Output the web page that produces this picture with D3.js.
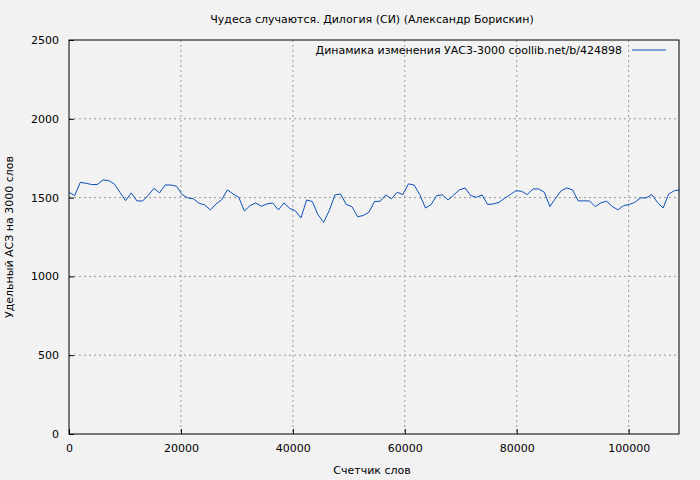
<!DOCTYPE html><html><head><meta charset="utf-8"><script src="https://cdn.jsdelivr.net/npm/d3@7"></script>
<style>body{margin:0;background:#f2f2f2}text{font-family:"DejaVu Sans";font-size:11px;fill:#000}</style></head><body><svg id="c" width="700" height="480"></svg><script>
const title="Чудеса случаются. Дилогия (СИ) (Александр Борискин)";
const legendLabel="Динамика изменения УАС3-3000  coollib.net/b/424898";
const xLabel="Счетчик слов", yLabel="Удельный АСЗ на 3000 слов";
const xTicks=[0,20000,40000,60000,80000,100000];
const yTicks=[0,500,1000,1500,2000,2500];
const values=[1534,1513,1597,1591,1583,1583,1612,1608,1587,1534,1481,1530,1479,1479,1513,1559,1530,1580,1580,1572,1519,1498,1492,1464,1453,1422,1460,1487,1549,1523,1502,1415,1449,1466,1445,1460,1466,1422,1466,1432,1417,1371,1485,1475,1392,1343,1417,1517,1523,1456,1443,1379,1386,1407,1475,
1477,1517,1492,1534,1519,1587,1580,1519,1434,1456,1513,1517,1485,1517,1549,1561,1513,1502,1517,1456,1460,1470,1496,1519,1544,1540,1519,1555,1555,1534,1443,1496,1544,1561,1549,1479,1479,1479,1443,1466,1477,1445,1422,1449,1456,1470,1498,1498,1519,1470,1434,1523,1544,1549];
const step=1011;
const svg=d3.select("#c"),L=69,R=679,T=40,B=434;
const x=d3.scaleLinear([0,109000],[L,R]),y=d3.scaleLinear([0,2500],[B,T]);
const g=svg.append("g");
xTicks.slice(1).forEach(t=>g.append("line").attr("x1",x(t)).attr("x2",x(t)).attr("y1",T).attr("y2",B).attr("stroke","#999").attr("stroke-dasharray","2,3"));
yTicks.slice(1,-1).forEach(t=>g.append("line").attr("x1",L).attr("x2",R).attr("y1",y(t)).attr("y2",y(t)).attr("stroke","#999").attr("stroke-dasharray","2,3"));
svg.append("rect").attr("x",L).attr("y",T).attr("width",R-L).attr("height",B-T).attr("fill","none").attr("stroke","#000");
const st=a=>{a.select(".domain").remove();a.selectAll("text").style("font-family","DejaVu Sans").style("font-size","11px");};
svg.append("g").attr("transform",`translate(0,${B})`).call(d3.axisBottom(x).tickValues(xTicks).tickFormat(d3.format("d")).tickSize(-5).tickPadding(10)).call(st);
svg.append("g").attr("transform",`translate(${L},0)`).call(d3.axisLeft(y).tickValues(yTicks).tickFormat(d3.format("d")).tickSize(-5).tickPadding(10)).call(st);
svg.append("path").datum(values).attr("fill","none").attr("stroke","#0a4fb8").attr("stroke-width",1)
 .attr("d",d3.line().x((d,i)=>x(i*step)).y(d=>y(d)));
svg.append("text").attr("x",372).attr("y",23).attr("text-anchor","middle").text(title);
svg.append("text").attr("x",372).attr("y",474).attr("text-anchor","middle").text(xLabel);
svg.append("text").attr("transform","translate(13,237) rotate(-90)").attr("text-anchor","middle").text(yLabel);
svg.append("text").attr("x",622).attr("y",54).attr("text-anchor","end").text(legendLabel);
svg.append("line").attr("x1",632).attr("x2",666).attr("y1",50).attr("y2",50).attr("stroke","#0a4fb8");
</script></body></html>
